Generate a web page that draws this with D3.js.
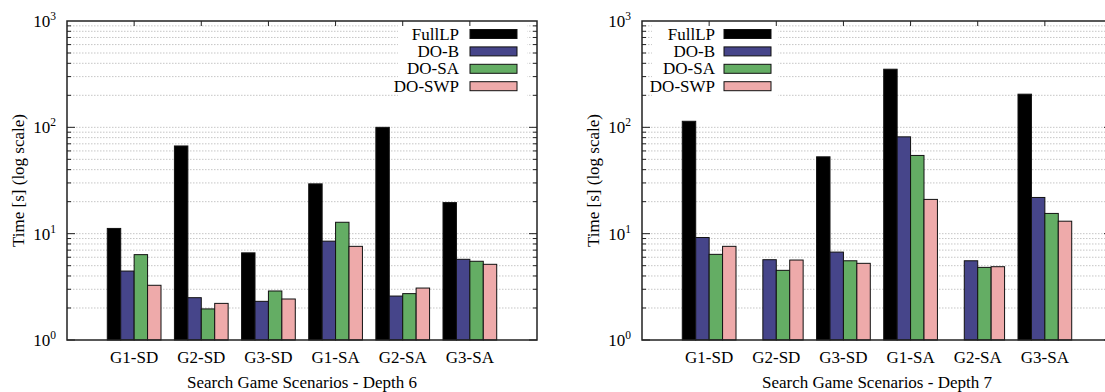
<!DOCTYPE html>
<html><head><meta charset="utf-8">
<script src="https://cdn.jsdelivr.net/npm/d3@7"></script>
<style>
body{margin:0;background:#fff;}
svg{display:block;}
svg text{font-family:"Liberation Serif","Times New Roman","DejaVu Serif",serif;}
</style></head>
<body><svg id="c" width="1105" height="392"></svg>
<script>
const categories = ["G1-SD","G2-SD","G3-SD","G1-SA","G2-SA","G3-SA"];
const seriesNames = ["FullLP","DO-B","DO-SA","DO-SWP"];
const seriesColors = ["#000000","#46458a","#64ad64","#eeaaaa"];
const depth6FullLP = [11.2, 66.8, 6.6, 29.4, 100, 19.6];
const depth6DOB    = [4.45, 2.5, 2.31, 8.5, 2.59, 5.74];
const depth6DOSA   = [6.35, 1.96, 2.89, 12.8, 2.73, 5.5];
const depth6DOSWP  = [3.27, 2.21, 2.43, 7.6, 3.08, 5.15];
const depth7FullLP = [114, null, 52.8, 352, null, 205];
const depth7DOB    = [9.2, 5.69, 6.71, 81.4, 5.56, 21.9];
const depth7DOSA   = [6.39, 4.52, 5.56, 54.4, 4.82, 15.5];
const depth7DOSWP  = [7.6, 5.65, 5.26, 21, 4.89, 13.1];
const yDomain = [1, 1000];
const yMajorTicks = [1, 10, 100, 1000];
const titles = ["Search Game Scenarios - Depth 6", "Search Game Scenarios - Depth 7"];
const yTitle = "Time [s] (log scale)";

const svg = d3.select("#c");
const FS = 17;
const FF = "'Liberation Serif', 'Times New Roman', 'DejaVu Serif', serif";

function drawChart(opts){
  const {x0, x1, y0, y1, data, title, legendRight} = opts;
  const g = svg.append("g").attr("font-family", FF);
  const y = d3.scaleLog().domain(yDomain).range([y1, y0]);
  const x = d3.scalePoint().domain(categories).range([x0, x1]).padding(1);
  const step = x.step();
  const xs = d3.scaleBand().domain(seriesNames).range([-0.4*step, 0.4*step]).padding(0);

  const gridVals = [];
  for (let d = 1; d < 1000; d *= 10) for (let k = 1; k <= 9; k++) { if (d*k>1) gridVals.push(d*k); }
  g.append("g").selectAll("line").data(gridVals).join("line")
    .attr("x1", x0).attr("x2", x1)
    .attr("y1", d=>y(d)).attr("y2", d=>y(d))
    .attr("stroke", "#b8b8b8").attr("stroke-width", 0.8).attr("stroke-dasharray", "1.5,1.5");

  let lb;
  if (legendRight) lb = {bx0: x1-139, bx1: x1-10, textX: x1-78, swX: x1-67, swW: 47};
  else lb = {bx0: x0+10, bx1: x0+136, textX: x0+73, swX: x0+82, swW: 47};
  g.append("rect").attr("x", lb.bx0).attr("y", y0+1.5).attr("width", lb.bx1-lb.bx0).attr("height", 75).attr("fill", "#fff");

  seriesNames.forEach((s, si) => {
    g.append("g").selectAll("rect").data(categories.map((c,i)=>({c, v: data[si][i]})).filter(d=>d.v!=null)).join("rect")
      .attr("x", d => x(d.c) + xs(s))
      .attr("width", xs.bandwidth())
      .attr("y", d => y(d.v))
      .attr("height", d => y1 - y(d.v))
      .attr("fill", seriesColors[si])
      .attr("stroke", "#111").attr("stroke-width", 1);
  });

  const ticks = g.append("g").attr("stroke", "#222").attr("stroke-width", 1);
  gridVals.concat([1]).forEach(v => {
    const major = yMajorTicks.includes(v);
    const L = major ? 8 : 4;
    ticks.append("line").attr("x1", x0).attr("x2", x0+L).attr("y1", y(v)).attr("y2", y(v));
    ticks.append("line").attr("x1", x1).attr("x2", x1-L).attr("y1", y(v)).attr("y2", y(v));
  });
  categories.forEach(c => {
    ticks.append("line").attr("x1", x(c)).attr("x2", x(c)).attr("y1", y0).attr("y2", y0+5);
  });

  g.append("rect").attr("x", x0).attr("y", y0).attr("width", x1-x0).attr("height", y1-y0)
    .attr("fill", "none").attr("stroke", "#222").attr("stroke-width", 1.5);

  yMajorTicks.forEach(v => {
    const t = g.append("text").attr("x", x0-11).attr("y", y(v)+6).attr("text-anchor", "end")
      .attr("font-size", FS).attr("fill", "#000");
    t.append("tspan").text("10");
    t.append("tspan").attr("dy", -7).attr("font-size", 11.5).text(String(Math.round(Math.log10(v))));
  });

  g.append("g").selectAll("text").data(categories).join("text")
    .attr("x", d => x(d)).attr("y", 363).attr("text-anchor", "middle")
    .attr("font-size", FS).text(d => d);

  g.append("text").attr("x", (x0 + x1)/2).attr("y", 388).attr("text-anchor", "middle")
    .attr("font-size", FS).text(title);

  g.append("text").attr("transform", `translate(${x0-48},${(y0+y1)/2}) rotate(-90)`)
    .attr("text-anchor", "middle").attr("dy", 5).attr("font-size", FS).text(yTitle);

  seriesNames.forEach((s, si) => {
    const cy = y0 + 13 + si*17.4;
    g.append("text").attr("x", lb.textX).attr("y", cy+5.5).attr("text-anchor", "end")
      .attr("font-size", FS).text(s);
    g.append("rect").attr("x", lb.swX).attr("y", cy-4.5).attr("width", lb.swW).attr("height", 9)
      .attr("fill", seriesColors[si]).attr("stroke", "#111").attr("stroke-width", 1);
  });
}

drawChart({x0: 67, x1: 537, y0: 21, y1: 340,
  data: [depth6FullLP, depth6DOB, depth6DOSA, depth6DOSWP], title: titles[0], legendRight: true});
drawChart({x0: 642, x1: 1112, y0: 21, y1: 340,
  data: [depth7FullLP, depth7DOB, depth7DOSA, depth7DOSWP], title: titles[1], legendRight: false});
</script></body></html>
